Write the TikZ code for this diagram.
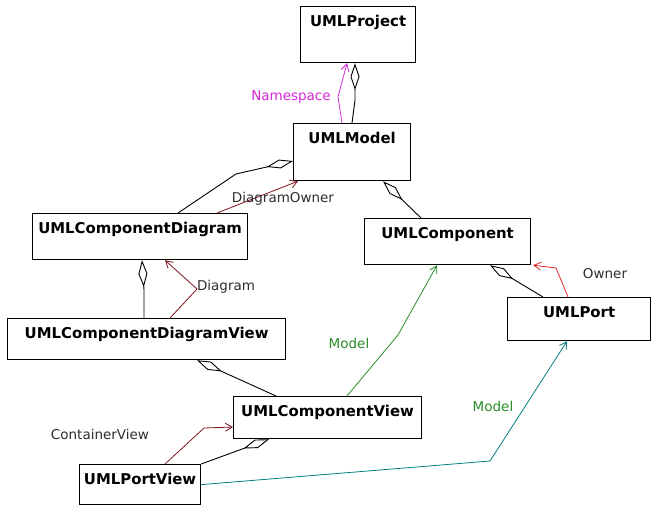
\documentclass[tikz,border=0pt]{standalone}
\usepackage{fontspec}
\setmainfont{DejaVu Sans}
\usepackage{xcolor}
\usetikzlibrary{arrows.meta}
\definecolor{nsMagenta}{RGB}{214,40,214}
\definecolor{roleDarkRed}{RGB}{128,20,30}
\definecolor{ownerRed}{RGB}{222,40,40}
\definecolor{modelGreen}{RGB}{40,140,40}
\definecolor{portTeal}{RGB}{0,128,128}
\definecolor{labelGray}{RGB}{45,45,45}

\begin{document}
\begin{tikzpicture}[x=1pt, y=-1pt,
umlclass/.style={rectangle, draw=black, line width=1.2pt, fill=white,
anchor=north west, inner sep=0pt, text height=20pt,
font=\bfseries\fontsize{14.9}{18}\selectfont, text=black},
aggr/.style={{Diamond[open, length=27pt, width=9pt]}-, line width=0.9pt, color=black},
assoc/.style={-{Straight Barb[angle=60:8pt]}, line width=0.8pt},
role/.style={font=\fontsize{13.5}{16}\selectfont, inner sep=0pt}]

\useasboundingbox (0,0) rectangle (652,508);

\node[umlclass, minimum width=115pt, text depth=36pt] (project) at (300,6) {UMLProject};
\node[umlclass, minimum width=117pt, text depth=37pt] (model) at (293,123) {UMLModel};
\node[umlclass, minimum width=215pt, text depth=26pt] (compdiagram) at (32,213) {UMLComponentDiagram};
\node[umlclass, minimum width=278pt, text depth=21pt] (diagramview) at (7,318) {UMLComponentDiagramView};
\node[umlclass, minimum width=166pt, text depth=26pt] (component) at (364,218) {UMLComponent};
\node[umlclass, minimum width=143pt, text depth=23pt] (port) at (507,297) {UMLPort};
\node[umlclass, minimum width=188pt, text depth=22pt] (compview) at (233,396) {UMLComponentView};
\node[umlclass, minimum width=121pt, text depth=20pt] (portview) at (79,464) {UMLPortView};

\draw[aggr] ([xshift=55pt]project.south west) -- (355,100) -- ([xshift=59pt]model.north west);
\draw[assoc, color=nsMagenta] ([xshift=49pt]model.north west) -- (338,97) -- ([xshift=47pt]project.south west);
\node[role, text=nsMagenta] (nslabel) at (291,97) {Namespace};

\draw[aggr] ([yshift=-38pt]model.north west) -- (236,174) -- ([xshift=146pt]compdiagram.north west);
\draw[assoc, color=roleDarkRed] ([xshift=185pt]compdiagram.north west) -- ([xshift=5pt]model.south west);
\node[role, text=labelGray] (ownerlabel) at (283,199) {DiagramOwner};

\draw[aggr] ([xshift=110pt]compdiagram.south west) -- (144,290) -- ([xshift=137pt]diagramview.north west);
\draw[assoc, color=roleDarkRed] ([xshift=163pt]diagramview.north west) -- (197,289) -- ([xshift=133pt]compdiagram.south west);
\node[role, text=labelGray] (diaglabel) at (226,287) {Diagram};

\draw[aggr] ([xshift=90pt]model.south west) -- ([xshift=57pt]component.north west);
\draw[aggr] ([xshift=126pt]component.south west) -- ([xshift=36pt]port.north west);
\draw[assoc, color=ownerRed] ([xshift=61pt]port.north west) -- (556,268) -- ([xshift=2pt]component.south east);
\node[role, text=labelGray] (portlabel) at (605,274) {Owner};

\draw[aggr] ([xshift=190pt]diagramview.south west) -- ([xshift=43pt]compview.north west);
\draw[assoc, color=modelGreen] ([xshift=114pt]compview.north west) -- (398,335) -- ([xshift=73pt]component.south west);
\node[role, text=modelGreen] (modellabel) at (349,343) {Model};

\draw[assoc, color=roleDarkRed] ([xshift=86pt]portview.north west) -- (204,428) -- ([yshift=-31pt]compview.north west);
\node[role, text=labelGray] (containerlabel) at (100,434) {ContainerView};
\draw[aggr] ([xshift=36pt]compview.south west) -- (portview.north east);

\draw[assoc, color=portTeal] (portview.east) -- (490,461) -- ([xshift=60pt]port.south west);
\node[role, text=modelGreen] (portmodellabel) at (493,406) {Model};
\end{tikzpicture}
\end{document}
